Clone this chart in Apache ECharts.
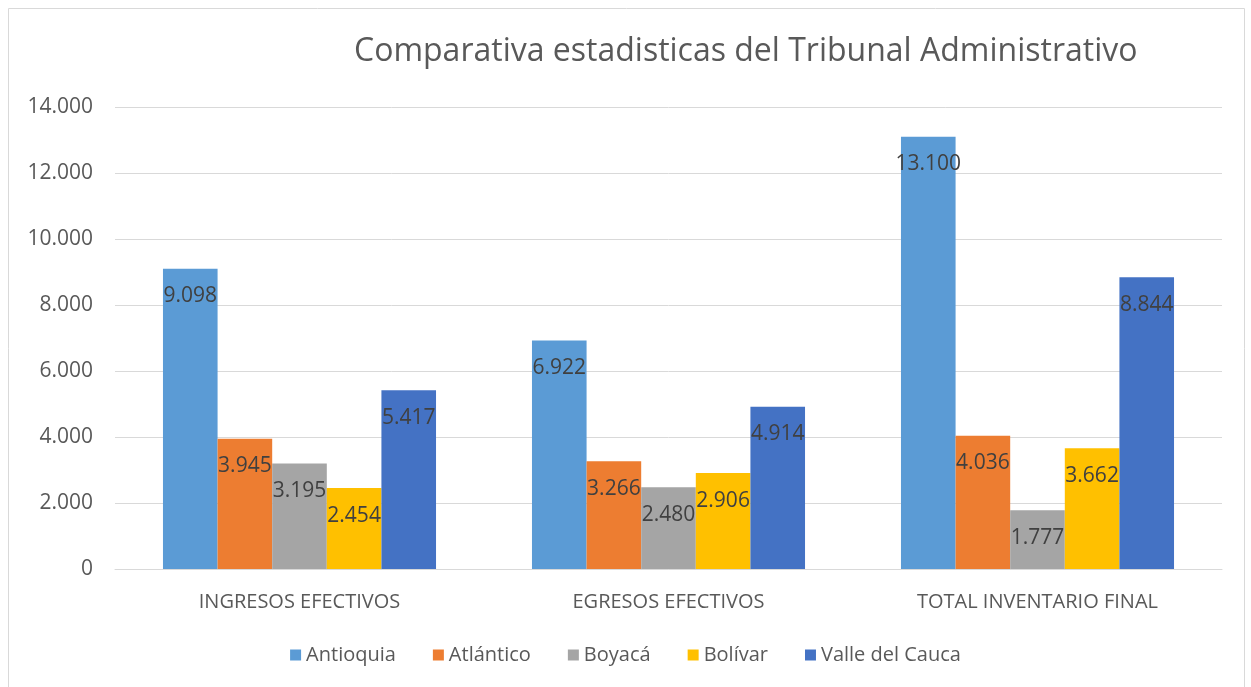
<!DOCTYPE html>
<html>
<head>
<meta charset="utf-8">
<script src="https://cdn.jsdelivr.net/npm/echarts@6/dist/echarts.min.js"></script>
<style>
  html, body { margin: 0; padding: 0; background: #fff; }
  #chart { width: 1251px; height: 687px; }
</style>
</head>
<body>
<div id="chart"></div>
<script>
// datos
var categorias = ['INGRESOS EFECTIVOS', 'EGRESOS EFECTIVOS', 'TOTAL INVENTARIO FINAL'];
var antioquia = [9098, 6922, 13100];
var atlantico = [3945, 3266, 4036];
var boyaca = [3195, 2480, 1777];
var bolivar = [2454, 2906, 3662];
var valle = [5417, 4914, 8844];

var colores = ['#5B9BD5', '#ED7D31', '#A5A5A5', '#FFC000', '#4472C4'];
var FONT = '"Open Sans", "Noto Sans", sans-serif';

function fmt(v) {
  return String(v).replace(/\B(?=(\d{3})+(?!\d))/g, '.');
}

function serie(nombre, datos) {
  return {
    name: nombre,
    type: 'bar',
    data: datos,
    barGap: '0%',
    barCategoryGap: '26%',
    label: {
      show: true,
      position: 'insideTop',
      distance: 17,
      color: '#404040',
      fontFamily: FONT,
      fontSize: 21,
      formatter: function (p) { return fmt(p.value); }
    }
  };
}

var myChart = echarts.init(document.getElementById('chart'));
myChart.setOption({
  color: colores,
  animation: false,
  title: {
    text: 'Comparativa estadisticas del Tribunal Administrativo',
    left: 349,
    top: 31,
    textStyle: { color: '#595959', fontFamily: FONT, fontSize: 32, fontWeight: 'normal' }
  },
  legend: {
    bottom: 17,
    left: 'center',
    itemWidth: 11,
    itemHeight: 11,
    itemGap: 37,
    icon: 'rect',
    textStyle: { color: '#595959', fontFamily: FONT, fontSize: 20 }
  },
  grid: { left: 115, right: 29, top: 107, bottom: 118 },
  xAxis: {
    type: 'category',
    data: categorias,
    axisTick: { show: false },
    axisLine: { lineStyle: { color: '#d9d9d9', width: 1 } },
    axisLabel: { color: '#595959', fontFamily: FONT, fontSize: 20, margin: 23 }
  },
  yAxis: {
    type: 'value',
    min: 0,
    max: 14000,
    interval: 2000,
    axisLine: { show: false },
    axisTick: { show: false },
    splitLine: { lineStyle: { color: '#d9d9d9', width: 1 } },
    axisLabel: { color: '#595959', fontFamily: FONT, fontSize: 21, margin: 22, formatter: fmt }
  },
  graphic: [{
    type: 'rect',
    shape: { x: 8.5, y: 8.5, width: 1236, height: 690 },
    style: { fill: 'none', stroke: '#d9d9d9', lineWidth: 1 },
    silent: true
  }],
  series: [
    serie('Antioquia', antioquia),
    serie('Atlántico', atlantico),
    serie('Boyacá', boyaca),
    serie('Bolívar', bolivar),
    serie('Valle del Cauca', valle)
  ]
});
</script>
</body>
</html>
